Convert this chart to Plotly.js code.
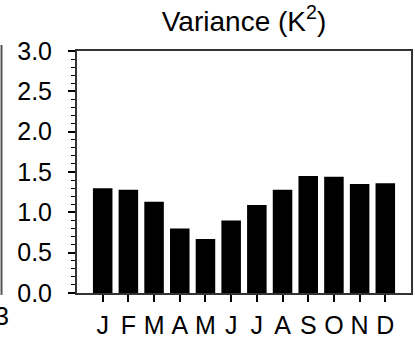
<!DOCTYPE html>
<html>
<head>
<meta charset="utf-8">
<script src="https://cdn.plot.ly/plotly-3.0.1.min.js"></script>
<style>html,body{margin:0;padding:0;background:#fff;} #chart{width:415px;height:340px;}</style>
</head>
<body>
<div id="chart"></div>
<script>
var months = ['J','F','M','A','M','J','J','A','S','O','N','D'];
var monthIndex = [0,1,2,3,4,5,6,7,8,9,10,11];
var variance = [1.30, 1.28, 1.13, 0.80, 0.67, 0.90, 1.09, 1.28, 1.45, 1.44, 1.35, 1.36];
var yTickVals = [0, 0.5, 1.0, 1.5, 2.0, 2.5, 3.0];
var yTickText = ['0.0','0.5','1.0','1.5','2.0','2.5','3.0'];

var font = 'Liberation Sans, Arial, Helvetica, sans-serif';

var trace = {
  type: 'bar',
  x: monthIndex,
  y: variance,
  marker: {color: '#000000', line: {color: '#000000', width: 0}},
  hoverinfo: 'none'
};

var layout = {
  width: 415, height: 340,
  margin: {l: 77, r: 4, t: 51, b: 47, pad: 0},
  paper_bgcolor: '#ffffff', plot_bgcolor: '#ffffff',
  showlegend: false,
  bargap: 0.24,
  font: {family: font, size: 25, color: '#000'},
  title: {
    text: 'Variance (K<sup>2</sup>)',
    font: {family: font, size: 28, color: '#000'},
    x: 0.5, xref: 'paper', xanchor: 'center',
    y: 0.937, yref: 'container', yanchor: 'middle'
  },
  xaxis: {
    range: [-1, 12],
    tickmode: 'array', tickvals: monthIndex, ticktext: months,
    ticks: 'outside', ticklen: 7, tickwidth: 2, tickcolor: '#000',
    ticklabelstandoff: 2,
    showline: true, linecolor: '#333', linewidth: 2, mirror: true,
    showgrid: false, zeroline: false,
    tickfont: {family: font, size: 25, color: '#000'}
  },
  yaxis: {
    range: [0, 3],
    tickmode: 'array', tickvals: yTickVals, ticktext: yTickText,
    ticks: 'outside', ticklen: 7, tickwidth: 2, tickcolor: '#000',
    ticklabelstandoff: 11,
    minor: {dtick: 0.1, ticks: 'outside', ticklen: 4, tickwidth: 1, tickcolor: '#000', showgrid: false},
    showline: true, linecolor: '#333', linewidth: 2, mirror: true,
    showgrid: false, zeroline: false,
    tickfont: {family: font, size: 25, color: '#000'}
  },
  shapes: [{
    type: 'line', xref: 'paper', yref: 'paper',
    x0: -0.226, x1: -0.226, y0: -0.008, y1: 1.025,
    line: {color: '#555', width: 2}
  }],
  annotations: [{
    text: '3', xref: 'paper', yref: 'paper',
    x: -0.226, y: -0.095, xanchor: 'center', yanchor: 'middle',
    showarrow: false, font: {family: font, size: 25, color: '#000'}
  }]
};

Plotly.newPlot('chart', [trace], layout, {staticPlot: true, displayModeBar: false});
</script>
</body>
</html>
